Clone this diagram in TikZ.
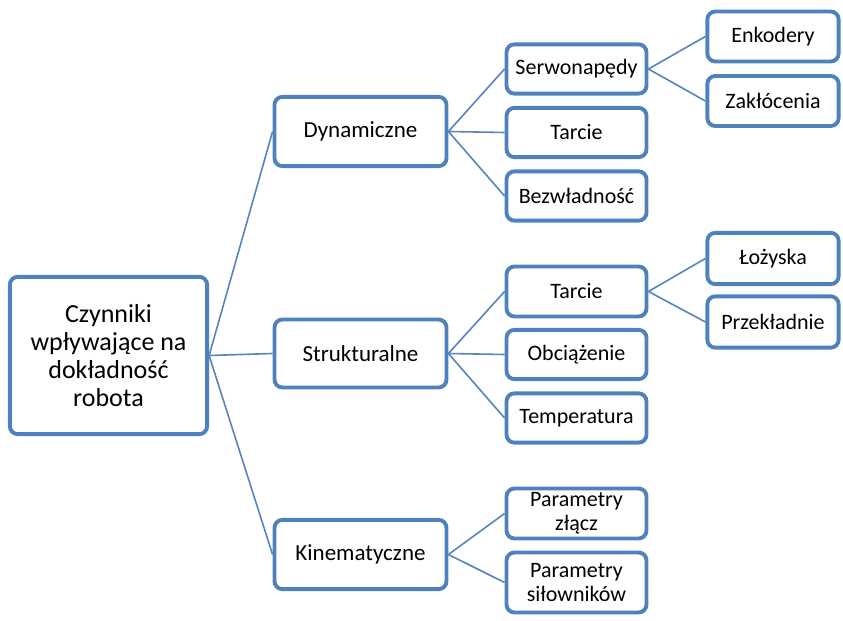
\documentclass[tikz,border=0pt]{standalone}
\usepackage{fontspec}
\setmainfont{Carlito}
\usepackage{tikz}

\definecolor{boxblue}{RGB}{79,129,189}
\definecolor{linkblue}{RGB}{86,132,190}

\begin{document}
\begin{tikzpicture}[x=0.75pt, y=-0.75pt,
  box/.style={draw=boxblue, line width=2.9pt, rounded corners=6pt, fill=white, align=center, inner sep=0pt},
  link/.style={draw=linkblue, line width=1.2pt}]

\useasboundingbox (0,0) rectangle (843,621);

% NODES %%%%%%%%%%%%%%%%%%%%%%%%%%%%%%%%%%%%%%%%%%%%%%%%%%%%%%%%%%%%%%%%%%

\node[box, minimum width=148pt, minimum height=118pt, font=\fontsize{19.5}{21}\selectfont] (P0) at (108.5,355.5) {Czynniki\\wpływające na\\dokładność\\robota};

\node[box, minimum width=129pt, minimum height=52pt, font=\fontsize{17.25}{20}\selectfont] (P1) at (360.5,131.5) {Dynamiczne};
\node[box, minimum width=129pt, minimum height=51pt, font=\fontsize{17.25}{20}\selectfont] (P2) at (360.5,353.5) {Strukturalne};
\node[box, minimum width=129pt, minimum height=52pt, font=\fontsize{17.25}{20}\selectfont] (P3) at (360.5,554.5) {Kinematyczne};

\node[box, minimum width=105pt, minimum height=37pt, font=\fontsize{16.5}{18}\selectfont] (P11) at (576.5,69) {Serwonapędy};
\node[box, minimum width=105pt, minimum height=37pt, font=\fontsize{16.5}{18}\selectfont] (P12) at (576.5,132.5) {Tarcie};
\node[box, minimum width=105pt, minimum height=37pt, font=\fontsize{16.5}{18}\selectfont] (P13) at (576.5,196) {Bezwładność};

\node[box, minimum width=98.5pt, minimum height=37.5pt, font=\fontsize{16.5}{18}\selectfont] (P111) at (773,36.5) {Enkodery};
\node[box, minimum width=98.5pt, minimum height=37.5pt, font=\fontsize{16.5}{18}\selectfont] (P112) at (773,101) {Zakłócenia};

\node[box, minimum width=105pt, minimum height=37.5pt, font=\fontsize{16.5}{18}\selectfont] (P21) at (576.5,291.5) {Tarcie};
\node[box, minimum width=105pt, minimum height=37pt, font=\fontsize{16.5}{18}\selectfont] (P22) at (576.5,354.5) {Obciążenie};
\node[box, minimum width=105pt, minimum height=37pt, font=\fontsize{16.5}{18}\selectfont] (P23) at (576.5,418) {Temperatura};

\node[box, minimum width=98.5pt, minimum height=38.5pt, font=\fontsize{16.5}{18}\selectfont] (P211) at (773,258.5) {Łożyska};
\node[box, minimum width=98.5pt, minimum height=38.5pt, font=\fontsize{16.5}{18}\selectfont] (P212) at (773,322) {Przekładnie};

\node[box, minimum width=105pt, minimum height=37.5pt, font=\fontsize{16.5}{18}\selectfont] (P31) at (576.5,513.5) {Parametry\\złącz};
\node[box, minimum width=105pt, minimum height=45pt, font=\fontsize{16.5}{18}\selectfont] (P32) at (576.5,582.5) {Parametry\\siłowników};

% LINKS %%%%%%%%%%%%%%%%%%%%%%%%%%%%%%%%%%%%%%%%%%%%%%%%%%%%%%%%%%%%%%%%%%

\draw[link] (P0.east) -- (P1.west);
\draw[link] (P0.east) -- (P2.west);
\draw[link] (P0.east) -- (P3.west);

\draw[link] (P1.east) -- (P11.west);
\draw[link] (P1.east) -- (P12.west);
\draw[link] (P1.east) -- (P13.west);
\draw[link] (P11.east) -- (P111.west);
\draw[link] (P11.east) -- (P112.west);

\draw[link] (P2.east) -- (P21.west);
\draw[link] (P2.east) -- (P22.west);
\draw[link] (P2.east) -- (P23.west);
\draw[link] (P21.east) -- (P211.west);
\draw[link] (P21.east) -- (P212.west);

\draw[link] (P3.east) -- (P31.west);
\draw[link] (P3.east) -- (P32.west);

\end{tikzpicture}
\end{document}
